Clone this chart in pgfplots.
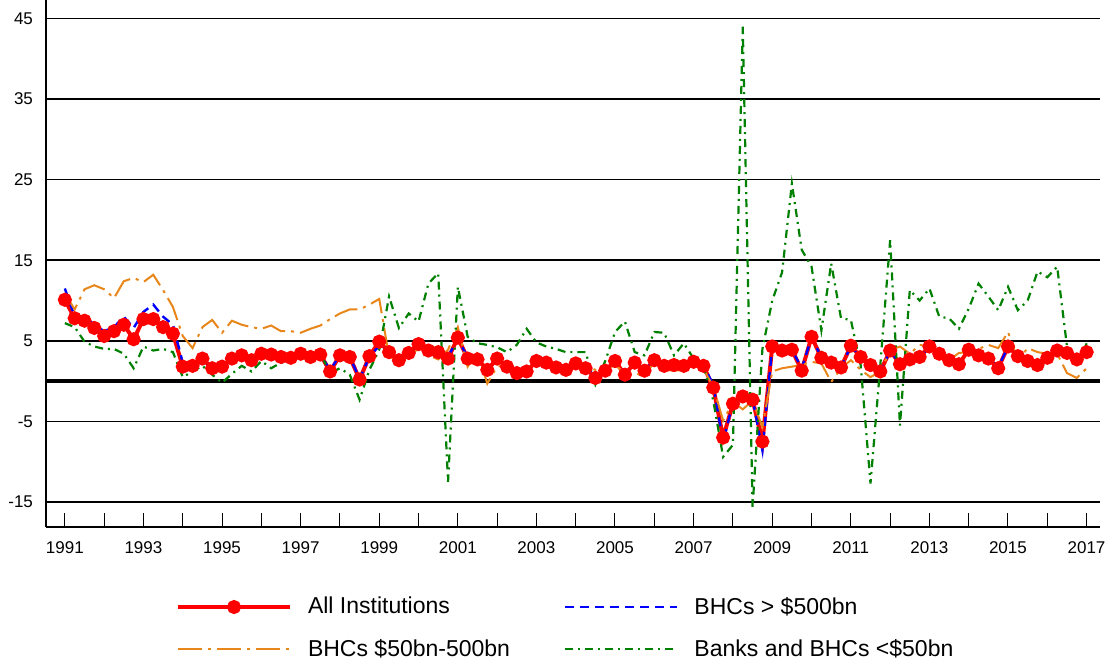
\documentclass[border=0pt]{standalone}
\usepackage{fontspec}
\setmainfont{Liberation Sans}
\usepackage{pgfplots}
\usepackage{pgfplotstable}
\pgfplotsset{compat=1.18}
\definecolor{lineorange}{RGB}{232,134,26}
\definecolor{linegreen}{RGB}{0,128,0}

% quarterly growth, per cent
\pgfplotstableread{
t all big mid small
1991.00 10.1 11.5 10.9 7.2
1991.25 7.8 8.0 8.9 6.7
1991.50 7.5 8.0 11.4 4.9
1991.75 6.6 7.0 11.9 4.3
1992.00 5.6 6.2 11.4 4.0
1992.25 6.2 6.7 10.3 4.0
1992.50 7.0 8.0 12.4 3.4
1992.75 5.2 6.6 12.8 1.6
1993.00 7.7 8.6 12.3 4.3
1993.25 7.7 9.5 13.2 3.8
1993.50 6.7 8.0 11.3 4.0
1993.75 5.9 7.0 9.2 3.6
1994.00 1.8 2.3 5.6 0.5
1994.25 1.9 2.2 4.1 1.2
1994.50 2.8 2.8 6.7 1.9
1994.75 1.6 1.6 7.6 0.8
1995.00 1.8 1.9 6.0 -0.2
1995.25 2.8 2.6 7.5 0.9
1995.50 3.2 3.2 7.0 1.9
1995.75 2.6 2.8 6.7 1.2
1996.00 3.4 3.4 6.5 2.5
1996.25 3.3 3.3 6.9 1.6
1996.50 3.0 3.0 6.2 2.3
1996.75 2.9 2.9 6.2 2.3
1997.00 3.4 3.4 6.0 3.2
1997.25 3.0 3.0 6.5 3.1
1997.50 3.3 3.3 6.9 3.5
1997.75 1.2 1.4 7.7 1.0
1998.00 3.2 3.2 8.4 1.6
1998.25 3.0 3.0 8.9 0.8
1998.50 0.2 0.3 8.9 -2.3
1998.75 3.1 3.0 9.5 1.4
1999.00 4.9 4.4 10.2 3.9
1999.25 3.6 3.8 3.0 10.5
1999.50 2.6 2.8 2.7 6.6
1999.75 3.5 3.5 3.5 8.4
2000.00 4.6 4.4 3.9 7.4
2000.25 3.8 3.8 3.2 12.1
2000.50 3.6 3.5 2.7 13.4
2000.75 2.8 3.0 3.9 -12.5
2001.00 5.4 5.3 6.7 11.7
2001.25 2.8 2.9 1.8 5.5
2001.50 2.7 2.6 3.6 4.7
2001.75 1.4 1.5 -0.3 4.5
2002.00 2.8 2.7 1.8 4.2
2002.25 1.8 1.9 2.0 3.6
2002.50 1.0 1.2 1.3 4.5
2002.75 1.2 1.2 1.0 6.5
2003.00 2.5 2.4 2.7 4.8
2003.25 2.3 2.3 2.6 4.3
2003.50 1.7 1.8 2.0 4.0
2003.75 1.4 1.5 1.4 3.6
2004.00 2.2 2.1 2.0 3.6
2004.25 1.6 1.7 1.9 3.6
2004.50 0.4 0.6 1.4 -0.4
2004.75 1.3 1.3 1.4 2.5
2005.00 2.5 2.4 2.0 6.1
2005.25 0.8 1.0 1.0 7.4
2005.50 2.3 2.2 1.0 3.6
2005.75 1.3 1.4 0.6 3.2
2006.00 2.6 2.5 2.4 6.1
2006.25 1.9 2.0 1.4 6.0
2006.50 2.0 2.0 1.3 3.2
2006.75 1.9 2.0 1.4 4.7
2007.00 2.4 2.4 2.5 2.8
2007.25 1.9 2.0 1.5 1.8
2007.50 -0.8 -0.5 -0.7 -2.4
2007.75 -7.0 -7.6 -4.9 -9.4
2008.00 -2.8 -2.6 -2.6 -7.9
2008.25 -1.9 -2.0 -3.5 44.0
2008.50 -2.3 -2.2 -2.4 -15.6
2008.75 -7.5 -8.6 -5.7 4.0
2009.00 4.3 4.3 1.2 10.0
2009.25 3.8 3.8 1.6 13.5
2009.50 3.9 3.9 1.8 24.5
2009.75 1.3 1.6 2.0 16.3
2010.00 5.5 5.4 2.4 14.2
2010.25 2.9 3.0 2.2 6.3
2010.50 2.3 2.3 -0.1 14.6
2010.75 1.7 1.8 1.6 7.8
2011.00 4.4 4.3 2.6 7.6
2011.25 3.0 3.0 1.4 2.0
2011.50 2.0 2.0 0.5 -12.7
2011.75 1.2 1.3 1.2 2.0
2012.00 3.8 3.7 3.8 17.5
2012.25 2.1 2.2 4.3 -5.5
2012.50 2.7 2.7 3.4 11.3
2012.75 3.0 3.0 4.5 10.0
2013.00 4.3 4.2 4.3 11.5
2013.25 3.4 3.4 3.0 8.0
2013.50 2.6 2.7 2.6 7.8
2013.75 2.1 2.2 3.5 6.5
2014.00 3.9 3.8 3.6 9.0
2014.25 3.2 3.2 4.0 12.1
2014.50 2.8 2.8 4.5 10.5
2014.75 1.6 1.8 4.1 8.8
2015.00 4.3 4.2 6.1 11.7
2015.25 3.1 3.2 2.6 8.8
2015.50 2.5 2.6 4.1 10.0
2015.75 2.0 2.1 3.6 13.6
2016.00 2.9 2.9 3.4 12.9
2016.25 3.8 3.6 3.4 14.2
2016.50 3.5 3.5 1.0 4.3
2016.75 2.7 2.8 0.4 1.8
2017.00 3.6 3.6 1.6 4.7
}\growth

\begin{document}
\begin{tikzpicture}
\path[use as bounding box] (-23pt,-66pt) rectangle (531.5pt,263.5pt);
\begin{axis}[
  scale only axis, width=527pt, height=263.5pt,
  xmin=1990.52, xmax=2017.34, ymin=-18.1, ymax=47.3,
  axis x line*=bottom, axis y line*=left,
  axis line style={-, line width=0.9pt},
  xtick={1991,...,2017},
  xticklabels={1991,,1993,,1995,,1997,,1999,,2001,,2003,,2005,,2007,,2009,,2011,,2013,,2015,,2017},
  ytick={-15,-5,5,15,25,35,45},
  yticklabels={-15,-5,5,15,25,35,45},
  tick align=inside, major tick length=7pt,
  xtick style={black, line width=0.5pt},
  ytick style={draw=none},
  ymajorgrids, grid style={black, line width=0.8pt},
  extra y ticks={0}, extra y tick labels={},
  extra y tick style={major grid style={black, line width=2.2pt}, tick style={draw=none}},
  ticklabel style={font=\fontsize{8.5}{10}\selectfont},
  yticklabel style={xshift=-3pt},
  xticklabel style={yshift=-4pt},
  legend columns=2,
  legend cell align=left,
  legend style={at={(0.123,-0.1245)}, anchor=north west, draw=none, fill=none,
    inner sep=0pt, row sep=7pt, font=\fontsize{11.5}{14}\selectfont,
    /tikz/every odd column/.append style={column sep=6pt},
    /tikz/every even column/.append style={column sep=25pt}},
  legend image code/.code={\draw[mark repeat=2,mark phase=2,#1] plot coordinates {(0pt,0pt) (28pt,0pt) (56pt,0pt)};},
]
\addplot[red, line width=2pt, mark=*, mark size=2.5pt, mark options={solid, fill=red, draw=red}] table[x=t, y=all] {\growth};
\addplot[blue, line width=1.2pt, dash pattern=on 4.5pt off 3pt] table[x=t, y=big] {\growth};
\addplot[lineorange, line width=1pt, dash pattern=on 12pt off 3pt on 1.5pt off 3pt] table[x=t, y=mid] {\growth};
\addplot[linegreen, line width=1.1pt, dash pattern=on 4pt off 2.5pt on 1pt off 2.5pt] table[x=t, y=small] {\growth};
\legend{All Institutions, BHCs > \$500bn, BHCs \$50bn-500bn, Banks and BHCs <\$50bn}
\end{axis}
\end{tikzpicture}
\end{document}
